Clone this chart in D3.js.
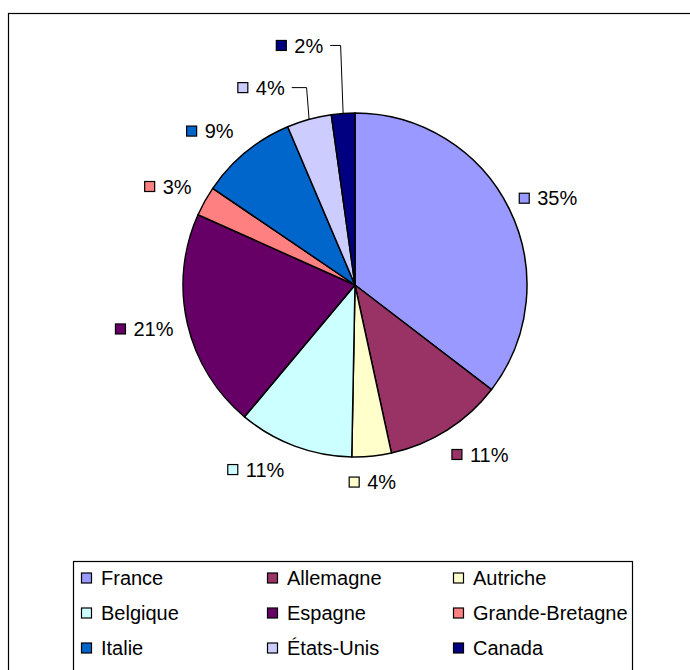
<!DOCTYPE html>
<html><head><meta charset="utf-8">
<script src="https://cdn.jsdelivr.net/npm/d3@7"></script>
<style>
body{margin:0;background:#fff}
svg{display:block}
text{font-family:"Liberation Sans",Arial,sans-serif;font-size:20px;fill:#000}
</style>
</head><body>
<svg id="c" width="690" height="670"></svg>
<script>
// ---- data ----
const categories = ["France","Allemagne","Autriche","Belgique","Espagne","Grande-Bretagne","Italie","États-Unis","Canada"];
const shares = [35.4, 11.2, 3.7, 10.8, 20.6, 2.8, 9.1, 4.2, 2.2];
const colors = ["#9999FF","#993366","#FFFFCC","#CCFFFF","#660066","#FF8080","#0066CC","#CCCCFF","#000080"];

// ---- layout ----
const cx = 355, cy = 285, R = 172, labelR = 186;
const sw = 11, swGapLabel = 7.5, swGapLegend = 9;
const labelNudge = {
  "France":[0,0], "Allemagne":[10,4], "Autriche":[-3,2], "Belgique":[-24,1],
  "Espagne":[-1,0], "Grande-Bretagne":[-4,-3], "Italie":[-12,-2.5],
  "États-Unis":[-38,-8.5], "Canada":[-41,-44]
};
const leaderLabels = new Set(["États-Unis","Canada"]);

const svg = d3.select("#c");
svg.append("rect").attr("x",8.5).attr("y",13.5).attr("width",720).attr("height",720)
  .attr("fill","#fff").attr("stroke","#000").attr("stroke-width",1.2);

const data = categories.map((c,i)=>({name:c, value:shares[i], color:colors[i]}));
const total = d3.sum(shares);
const pie = d3.pie().value(d=>d.value).sort(null);
const arcs = pie(data);
const arc = d3.arc().innerRadius(0).outerRadius(R);

const g = svg.append("g").attr("transform",`translate(${cx},${cy})`);
g.selectAll("path").data(arcs).join("path")
  .attr("d",arc).attr("fill",d=>d.data.color)
  .attr("stroke","#000").attr("stroke-width",1.5).attr("stroke-linejoin","round");

// ---- data labels ----
const pctFmt = v => Math.round(v/total*100) + "%";
arcs.forEach(d=>{
  const a = (d.startAngle+d.endAngle)/2;
  const s = Math.sin(a), c = Math.cos(a);
  const lg = g.append("g");
  const t = lg.append("text").text(pctFmt(d.value));
  const tw = t.node().getComputedTextLength();
  const w = sw + swGapLabel + tw, h = 20;
  const nud = labelNudge[d.data.name] || [0,0];
  const px = labelR*s, py = -labelR*c;
  const bx = px + s*w/2 + nud[0];
  const by = py - c*h/2 + nud[1];
  const left = bx - w/2;
  lg.insert("rect","text").attr("x",left+0.5).attr("y",by-sw/2+0.5).attr("width",sw-1).attr("height",sw-1)
    .attr("fill",d.data.color).attr("stroke","#000").attr("stroke-width",1.2);
  t.attr("x",left+sw+swGapLabel).attr("y",by).attr("dy","0.36em");
  if (leaderLabels.has(d.data.name)) {
    const ax = R*s, ay = -R*c;
    const x0 = left + w + 7;
    g.append("polyline")
      .attr("points",`${x0},${by} ${ax-2.5},${by} ${ax},${ay}`)
      .attr("fill","none").attr("stroke","#000").attr("stroke-width",1);
  }
});

// ---- legend ----
svg.append("rect").attr("x",73.5).attr("y",561.5).attr("width",559).attr("height",120)
  .attr("fill","#fff").attr("stroke","#000").attr("stroke-width",1.2);
const legX0 = 81, legColW = 186, legY0 = 578, legRowH = 35;
data.forEach((d,i)=>{
  const col = i%3, row = Math.floor(i/3);
  const x = legX0 + col*legColW, y = legY0 + row*legRowH;
  svg.append("rect").attr("x",x+0.5).attr("y",y-sw/2+0.5).attr("width",sw-1).attr("height",sw-1)
    .attr("fill",d.color).attr("stroke","#000").attr("stroke-width",1.2);
  svg.append("text").attr("x",x+sw+swGapLegend).attr("y",y).attr("dy","0.36em").text(d.name);
});
</script>
</body></html>
